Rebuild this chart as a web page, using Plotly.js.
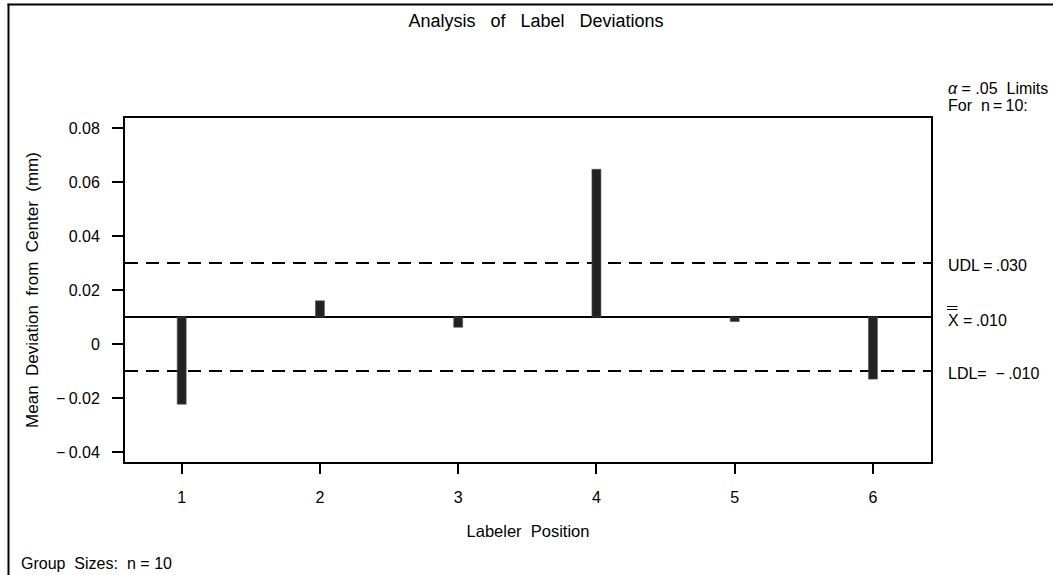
<!DOCTYPE html>
<html>
<head>
<meta charset="utf-8">
<script src="https://cdn.plot.ly/plotly-3.0.1.min.js"></script>
<style>html,body{margin:0;padding:0;background:#fff;}#chart{width:1053px;height:575px;}</style>
</head>
<body>
<div id="chart"></div>
<script>
// ---- data ----
const positions = [1, 2, 3, 4, 5, 6];
const positionLabels = ['1', '2', '3', '4', '5', '6'];
const means = [-0.0223, 0.0160, 0.0062, 0.0647, 0.0083, -0.0130];
const centerValue = 0.010;
const udlValue = 0.030;
const ldlValue = -0.010;
const yTickVals = [-0.04, -0.02, 0, 0.02, 0.04, 0.06, 0.08];
const yTickText = ['\u2212\u20090.04', '\u2212\u20090.02', '0', '0.02', '0.04', '0.06', '0.08'];

// ---- layout geometry ----
const W = 1053, H = 575;
const M = {l: 125, r: 122, t: 118, b: 113};
const PW = W - M.l - M.r, PH = H - M.t - M.b;
const px = x => (x - M.l) / PW;
const py = y => (H - M.b - y) / PH;
const FONT = 'Liberation Sans, Arial, Helvetica, sans-serif';

const trace = {
  type: 'bar',
  x: positions,
  y: means.map(m => m - centerValue),
  base: means.map(() => centerValue),
  width: 0.065,
  marker: {color: '#222222', line: {color: '#555555', width: 0.6}},
  hoverinfo: 'skip',
  showlegend: false
};

const hline = (v, dash) => ({
  type: 'line', xref: 'paper', yref: 'y', x0: 0, x1: 1, y0: v, y1: v,
  line: {color: '#000', width: 2, dash: dash}, layer: 'below'
});

const shapes = [
  hline(udlValue, '13px,8px'),
  hline(ldlValue, '13px,8px'),
  hline(centerValue, 'solid'),
  // outer border (top and left)
  {type: 'line', xref: 'paper', yref: 'paper', x0: px(8.5), x1: px(8.5), y0: py(3.8), y1: py(H + 5), line: {color: '#000', width: 2}},
  {type: 'line', xref: 'paper', yref: 'paper', x0: px(7.5), x1: px(W + 5), y0: py(4.5), y1: py(4.5), line: {color: '#000', width: 2}},
  // double bar over X
  {type: 'line', xref: 'paper', yref: 'paper', x0: px(947), x1: px(957.5), y0: py(306.5), y1: py(306.5), line: {color: '#000', width: 1}},
  {type: 'line', xref: 'paper', yref: 'paper', x0: px(947), x1: px(957.5), y0: py(309.5), y1: py(309.5), line: {color: '#000', width: 1}}
];

const ann = (text, x, y, opts) => Object.assign({
  text: text, xref: 'paper', yref: 'paper', x: px(x), y: py(y),
  xanchor: 'left', yanchor: 'middle', showarrow: false,
  font: {family: FONT, size: 16, color: '#000'}
}, opts || {});

const annotations = [
  ann('<i>\u03b1</i>\u00a0=\u00a0.05\u00a0\u00a0Limits', 946, 88),
  ann('For\u00a0\u00a0n\u2009=\u200910:', 946, 106),
  {text: 'UDL\u2009=\u2009.030', xref: 'paper', yref: 'y', x: px(946), y: udlValue, yshift: -2,
   xanchor: 'left', yanchor: 'middle', showarrow: false, font: {family: FONT, size: 16, color: '#000'}},
  {text: 'X\u00a0=\u2009.010', xref: 'paper', yref: 'y', x: px(946), y: centerValue, yshift: -3,
   xanchor: 'left', yanchor: 'middle', showarrow: false, font: {family: FONT, size: 16, color: '#000'}},
  {text: 'LDL=\u00a0\u00a0\u2212\u2009.010', xref: 'paper', yref: 'y', x: px(946), y: ldlValue, yshift: -2,
   xanchor: 'left', yanchor: 'middle', showarrow: false, font: {family: FONT, size: 16, color: '#000'}},
  ann('Group\u00a0\u00a0Sizes:', 19, 563),
  ann('n\u00a0=\u00a010', 125, 563)
];

const layout = {
  width: W, height: H,
  margin: M,
  paper_bgcolor: '#fff', plot_bgcolor: '#fff',
  font: {family: FONT, size: 16, color: '#000'},
  title: {text: 'Analysis\u00a0\u00a0 of\u00a0\u00a0 Label\u00a0\u00a0 Deviations', font: {family: FONT, size: 18, color: '#000'},
          xref: 'container', yref: 'container', x: 536 / W, y: 1 - 20.5 / H, xanchor: 'center', yanchor: 'middle'},
  xaxis: {
    range: [0.59, 6.42], tickmode: 'array', tickvals: positions, ticktext: positionLabels,
    showline: true, mirror: true, linecolor: '#000', linewidth: 2,
    ticks: 'outside', ticklen: 10, tickwidth: 2, tickcolor: '#000', ticklabelstandoff: 10,
    showgrid: false, zeroline: false, fixedrange: true,
    tickfont: {family: FONT, size: 16},
    title: {text: 'Labeler\u00a0 Position', font: {family: FONT, size: 16.5}, standoff: 20}
  },
  yaxis: {
    range: [-0.0437, 0.0837], tickmode: 'array', tickvals: yTickVals, ticktext: yTickText,
    showline: true, mirror: true, linecolor: '#000', linewidth: 2,
    ticks: 'outside', ticklen: 11, tickwidth: 2, tickcolor: '#000', ticklabelstandoff: 9,
    showgrid: false, zeroline: false, fixedrange: true,
    tickfont: {family: FONT, size: 16},
    title: {text: 'Mean\u00a0 Deviation\u00a0 from\u00a0 Center\u00a0 (mm)', font: {family: FONT, size: 17}, standoff: 13}
  },
  shapes: shapes,
  annotations: annotations,
  bargap: 0
};

Plotly.newPlot('chart', [trace], layout, {displayModeBar: false, staticPlot: true});
</script>
</body>
</html>
